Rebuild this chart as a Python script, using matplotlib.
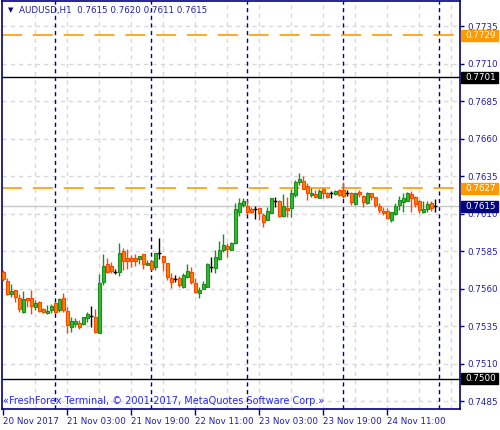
import numpy as np
import matplotlib
matplotlib.use("Agg")
import matplotlib.pyplot as plt
from matplotlib.patches import Rectangle
from matplotlib.transforms import blended_transform_factory

# AUDUSD H1, 20 Nov 2017 11:00 .. 24 Nov 2017 23:00
opens = [0.7571, 0.7565, 0.75565, 0.7559, 0.75537, 0.75445, 0.75537, 0.75537, 0.75479, 0.75512,
         0.75463, 0.75435, 0.75457, 0.75503, 0.75457, 0.75537, 0.7545, 0.75345, 0.75365, 0.7537,
         0.75363, 0.75403, 0.75417, 0.7541, 0.75305, 0.75645, 0.75763, 0.7575, 0.7571, 0.75712,
         0.7585, 0.75803, 0.75803, 0.75803, 0.75797, 0.7583, 0.75759, 0.75783, 0.75745, 0.75837,
         0.75817, 0.75772, 0.75672, 0.75663, 0.75672, 0.75612, 0.75677, 0.75712, 0.75639, 0.7557,
         0.75597, 0.75612, 0.75745, 0.75737, 0.75797, 0.75857, 0.75883, 0.75857, 0.75905, 0.76112,
         0.76157, 0.7615, 0.7613, 0.7613, 0.76139, 0.7609, 0.76057, 0.76105, 0.76183, 0.76183,
         0.76083, 0.76139, 0.76137, 0.76223, 0.76312, 0.76317, 0.76283, 0.76223, 0.7623, 0.76205,
         0.76261, 0.76235, 0.76235, 0.7623, 0.76257, 0.76257, 0.76239, 0.76235, 0.76163, 0.76241,
         0.76217, 0.76168, 0.76235, 0.76208, 0.7615, 0.76119, 0.76119, 0.76057, 0.76097, 0.76157,
         0.76179, 0.76185, 0.7623, 0.76212, 0.76185, 0.76112, 0.7613, 0.76168, 0.7615]
highs = [0.75723, 0.7567, 0.7563, 0.7559, 0.75563, 0.75583, 0.75537, 0.7559, 0.75523, 0.75519,
         0.75472, 0.7549, 0.75497, 0.75512, 0.75537, 0.7557, 0.75479, 0.7541, 0.75403, 0.7539,
         0.7541, 0.75445, 0.75483, 0.75463, 0.75697, 0.7583, 0.75803, 0.75777, 0.7573, 0.75905,
         0.7587, 0.75863, 0.75823, 0.7583, 0.75817, 0.7583, 0.7579, 0.7579, 0.75837, 0.75937,
         0.75817, 0.75772, 0.75703, 0.7569, 0.75683, 0.75703, 0.75763, 0.75745, 0.7567, 0.75612,
         0.75652, 0.75772, 0.75812, 0.75857, 0.75917, 0.75963, 0.75905, 0.75907, 0.76172, 0.76203,
         0.76205, 0.7619, 0.76145, 0.7615, 0.76139, 0.76101, 0.76145, 0.76203, 0.76212, 0.7619,
         0.7623, 0.76212, 0.76263, 0.76323, 0.76372, 0.7635, 0.76303, 0.7627, 0.76257, 0.76263,
         0.7627, 0.76241, 0.76252, 0.76255, 0.76261, 0.76312, 0.76257, 0.76241, 0.76237, 0.76257,
         0.76223, 0.76242, 0.76239, 0.76212, 0.76168, 0.76145, 0.76135, 0.7611, 0.76168, 0.76217,
         0.76239, 0.76245, 0.7625, 0.76217, 0.7619, 0.76185, 0.76183, 0.76185, 0.7620]
lows = [0.7565, 0.75557, 0.75545, 0.75512, 0.75443, 0.7544, 0.75477, 0.7543, 0.75457, 0.75443,
        0.75435, 0.75433, 0.75437, 0.75437, 0.75445, 0.75445, 0.75303, 0.75312, 0.75345, 0.7533,
        0.75357, 0.75379, 0.75345, 0.75303, 0.75303, 0.75623, 0.75705, 0.75703, 0.757, 0.75685,
        0.75723, 0.7573, 0.75745, 0.7575, 0.75763, 0.7573, 0.75757, 0.75723, 0.75723, 0.75797,
        0.75717, 0.75657, 0.75605, 0.75645, 0.75612, 0.75605, 0.7567, 0.7563, 0.7557, 0.75537,
        0.75595, 0.7561, 0.7571, 0.75703, 0.7579, 0.75843, 0.75812, 0.75855, 0.759, 0.76083,
        0.76145, 0.76097, 0.76101, 0.76063, 0.76057, 0.76012, 0.76055, 0.76103, 0.76145, 0.76077,
        0.76079, 0.76079, 0.76079, 0.76212, 0.7629, 0.76261, 0.7619, 0.76212, 0.76203, 0.76201,
        0.76203, 0.76201, 0.76201, 0.76223, 0.76217, 0.76201, 0.76217, 0.76157, 0.76157, 0.76208,
        0.76145, 0.76163, 0.7619, 0.76145, 0.76101, 0.7609, 0.76061, 0.76045, 0.7609, 0.76123,
        0.76112, 0.76183, 0.76112, 0.76145, 0.76105, 0.76101, 0.76112, 0.76119, 0.7611]
closes = [0.75663, 0.75563, 0.75583, 0.75545, 0.75463, 0.7553, 0.75523, 0.75485, 0.75503, 0.75447,
          0.75445, 0.7545, 0.75485, 0.75445, 0.7553, 0.75457, 0.75357, 0.75383, 0.75383, 0.75345,
          0.7541, 0.7543, 0.75418, 0.75312, 0.75637, 0.7575, 0.75712, 0.75717, 0.7571, 0.75837,
          0.75785, 0.75785, 0.75785, 0.75785, 0.75817, 0.75763, 0.75772, 0.7573, 0.75837, 0.75837,
          0.75779, 0.75679, 0.75645, 0.75663, 0.75623, 0.7569, 0.75719, 0.75643, 0.75579, 0.7559,
          0.7563, 0.75763, 0.75745, 0.7581, 0.75857, 0.7589, 0.75863, 0.75903, 0.7613, 0.76172,
          0.76183, 0.76112, 0.76112, 0.7613, 0.76101, 0.76045, 0.76117, 0.76203, 0.76183, 0.76081,
          0.7615, 0.76123, 0.76239, 0.76312, 0.7633, 0.76263, 0.76235, 0.76235, 0.76212, 0.7625,
          0.76235, 0.76212, 0.76235, 0.76252, 0.76223, 0.76219, 0.76239, 0.76179, 0.76235, 0.76228,
          0.76179, 0.76239, 0.76208, 0.76157, 0.76123, 0.76105, 0.76068, 0.76108, 0.7615, 0.7619,
          0.76205, 0.76235, 0.76201, 0.76163, 0.76123, 0.76128, 0.76163, 0.76135, 0.7615]

tick_bars = [0, 16, 32, 48, 64, 80, 96]
tick_labels = ["20 Nov 2017", "21 Nov 03:00", "21 Nov 19:00", "22 Nov 11:00",
               "23 Nov 03:00", "23 Nov 19:00", "24 Nov 11:00"]
day_starts = [13, 37, 61, 85, 109]
price_ticks = [0.7485, 0.7510, 0.7535, 0.7560, 0.7585, 0.7610, 0.7635, 0.7660, 0.7685, 0.7710, 0.7735]

# horizontal levels: (price, line colour, style, label box colour)
levels = [(0.7729, "#ff9900", "dash", "#ff9900"),
          (0.7701, "black", "solid", "black"),
          (0.7627, "#ff9900", "dash", "#ff9900"),
          (0.7615, "#c8c8c8", "solid", "#000080"),
          (0.7500, "black", "solid", "black")]

NAVY = "#000080"
TXT = "#2020a8"
BULL_FILL, BULL_EDGE = "#33bb33", "#1e8c1e"
BEAR_FILL, BEAR_EDGE = "#ff8800", "#ff4400"

plt.rcParams["font.family"] = ["DejaVu Sans"]

W, H = 500, 430
fig = plt.figure(figsize=(W / 100, H / 100), dpi=100)
left, right, top, bottom = 2, 460, 1, 409
ax = fig.add_axes([left / W, (H - bottom) / H, (right - left) / W, (bottom - top) / H])
ax.set_xlim(-0.25, 114.25)
ax.set_ylim(0.747967, 0.775167)

# grid
for p in price_ticks:
    ax.axhline(p, color="#d8d8d8", lw=1, dashes=(3, 3), zorder=0)
for g in range(8, 115, 8):
    ax.axvline(g, color="#d8d8d8", lw=1, dashes=(3, 3), zorder=0)
for d in day_starts:
    ax.axvline(d, color=NAVY, lw=1, dashes=(3, 2.5), zorder=1)

# levels
for price, col, style, _ in levels:
    if style == "dash":
        ax.axhline(price, color=col, lw=1.2, dashes=(12, 6.5), zorder=1)
    else:
        ax.axhline(price, color=col, lw=1, zorder=1)

# candles
x = np.arange(len(opens))
for i in x:
    o, h, l, c = opens[i], highs[i], lows[i], closes[i]
    if abs(c - o) < 0.00002:
        ax.vlines(i, l, h, color="black", lw=1, zorder=3)
        ax.hlines(o, i - 0.45, i + 0.45, color="black", lw=1, zorder=3)
        continue
    fill, edge = (BULL_FILL, BULL_EDGE) if c > o else (BEAR_FILL, BEAR_EDGE)
    ax.vlines(i, l, h, color=edge, lw=1, zorder=3)
    ax.bar(i, abs(c - o), bottom=min(o, c), width=0.75, color=fill,
           edgecolor=edge, linewidth=0.8, zorder=4)

# axes styling
for s in ax.spines.values():
    s.set_color(NAVY)
    s.set_linewidth(1.2)
ax.yaxis.tick_right()
ax.set_yticks(price_ticks)
ax.set_yticklabels(["%.4f" % p for p in price_ticks])
ax.tick_params(axis="y", colors=NAVY, labelcolor=TXT, length=3, width=1, pad=2, labelsize=6.3)
ax.set_xticks(tick_bars)
ax.set_xticklabels(tick_labels, ha="left")
ax.tick_params(axis="x", colors=NAVY, labelcolor=TXT, length=4, width=1, pad=2, labelsize=6.3)

# price boxes on the right
tr = blended_transform_factory(ax.transAxes, ax.transData)
px = 1.0 / (right - left)
half = 5.5 / 15000
for price, _, _, box in levels:
    ax.add_patch(Rectangle((1 + 1.5 * px, price - half), 37 * px, 2 * half,
                           transform=tr, color=box, clip_on=False, zorder=10))
    ax.text(1 + 5 * px, price, "%.4f" % price, transform=tr, color="white",
            fontsize=6.3, va="center", ha="left", clip_on=False, zorder=11)

# title and copyright
fig.text(8 / W, 1 - 10 / H, "\u25bc", color=NAVY, fontsize=5, va="center", ha="left")
fig.text(19 / W, 1 - 10 / H, "AUDUSD,H1  0.7615 0.7620 0.7611 0.7615",
         color=TXT, fontsize=6.3, va="center", ha="left")
fig.text(3 / W, 1 - 401 / H,
         "\u00abFreshForex Terminal, \u00a9 2001-2017, MetaQuotes Software Corp.\u00bb",
         color="#2828ff", fontsize=7, va="center", ha="left")

fig.savefig("out.png", dpi=100, facecolor="white")
